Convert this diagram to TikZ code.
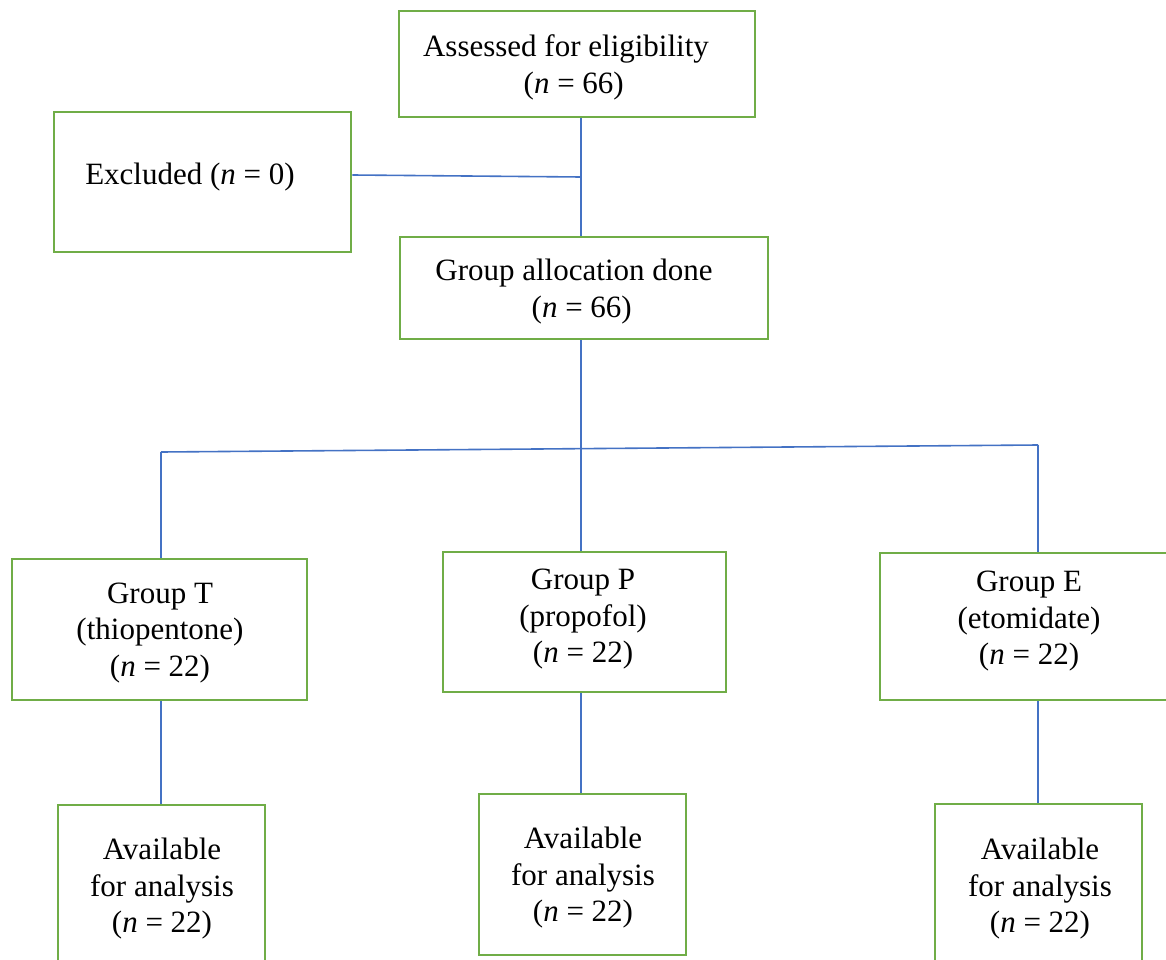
\documentclass[tikz,border=0pt]{standalone}
\usepackage{fontspec}
\setmainfont{Liberation Serif}
\definecolor{boxgreen}{HTML}{70AD47}
\definecolor{lineblue}{HTML}{4472C4}
\begin{document}
\begin{tikzpicture}[x=1pt,y=-1pt,
  box/.style={draw=boxgreen,line width=2.7pt,inner sep=0pt},
  txt/.style={align=center,inner sep=0pt,font=\fontsize{31}{36.5}\selectfont},
  conn/.style={draw=lineblue,line width=1.2pt},
  hconn/.style={draw=lineblue,line width=1.6pt}]
\useasboundingbox (0,0) rectangle (1166,960);
\clip (0,0) rectangle (1166,960);
% boxes
\node[box,minimum width=356pt,minimum height=106pt] (assess) at (577,64) {};
\node[box,minimum width=297pt,minimum height=140pt] (excl) at (202.5,182) {};
\node[box,minimum width=368pt,minimum height=102pt] (alloc) at (584,288) {};
\node[box,minimum width=295pt,minimum height=141pt] (gT) at (159.5,629.5) {};
\node[box,minimum width=283pt,minimum height=140pt] (gP) at (584.5,622) {};
\node[box,minimum width=300pt,minimum height=147pt] (gE) at (1030,626.5) {};
\node[box,minimum width=207pt,minimum height=170pt] (avT) at (161.5,890) {};
\node[box,minimum width=207pt,minimum height=161pt] (avP) at (582.5,874.5) {};
\node[box,minimum width=207pt,minimum height=171pt] (avE) at (1038.5,889.5) {};
% texts
\node[txt] (assessT) at (566,67.5) {Assessed for eligibility\\ \ \ (\textit{n} = 66)};
\node[txt] (exclT) at (190,177) {Excluded (\textit{n} = 0)};
\node[txt] (allocT) at (574,291.5) {Group allocation done\\ \ \ (\textit{n} = 66)};
\node[txt] (gTT) at (160,633) {Group T\\(thiopentone)\\(\textit{n} = 22)};
\node[txt] (gPT) at (583,619.5) {Group P\\(propofol)\\(\textit{n} = 22)};
\node[txt] (gET) at (1029,621.5) {Group E\\(etomidate)\\(\textit{n} = 22)};
\node[txt] (avTT) at (162,889) {Available\\for analysis\\(\textit{n} = 22)};
\node[txt] (avPT) at (583,878) {Available\\for analysis\\(\textit{n} = 22)};
\node[txt] (avET) at (1040,889) {Available\\for analysis\\(\textit{n} = 22)};
% connectors
\coordinate (cx) at (581,0);
\coordinate (j1) at (581,177);
\coordinate (bL) at (161,452);
\coordinate (bR) at (1038,445);
\draw[conn] (assess.south -| cx) -- (alloc.north -| cx);
\draw[hconn] ([yshift=7pt]excl.east) -- (j1);
\draw[conn] (alloc.south -| cx) -- (gP.north -| cx);
\draw[hconn] (bL) -- (bR);
\draw[conn] (bL) -- (gT.north -| bL);
\draw[conn] (bR) -- (gE.north -| bR);
\draw[conn] (gT.south -| bL) -- (avT.north -| bL);
\draw[conn] (gP.south -| cx) -- (avP.north -| cx);
\draw[conn] (gE.south -| bR) -- (avE.north -| bR);
\end{tikzpicture}
\end{document}
